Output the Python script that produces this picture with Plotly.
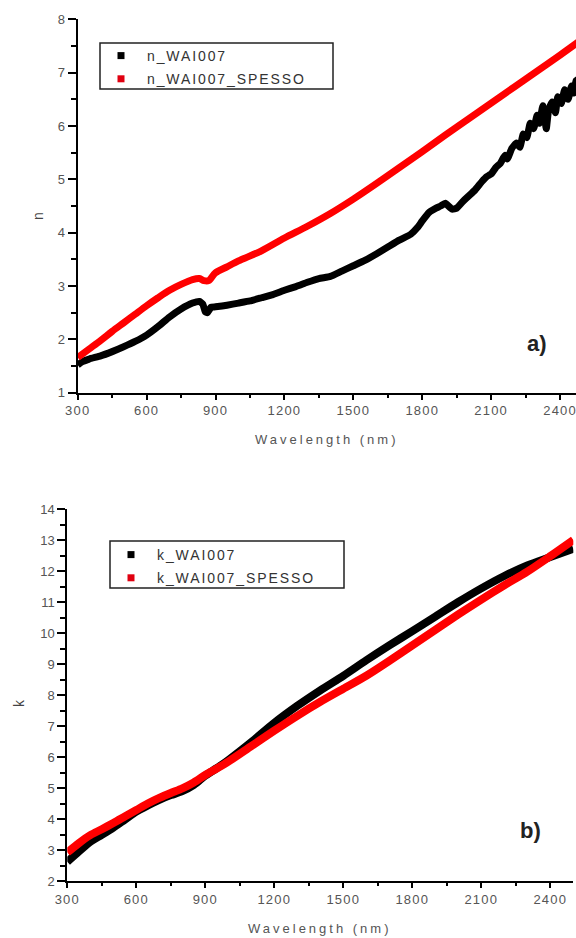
import plotly.graph_objects as go

W, H = 576, 938

# ---------------- data ----------------
wl_n_black = [300, 320, 350, 400, 450, 500, 550, 600, 650, 700, 750, 800, 830, 845, 855, 865, 880, 900,
              950, 1000, 1050, 1100, 1150, 1200, 1250, 1300, 1350, 1400, 1450, 1500, 1550, 1600, 1650,
              1700, 1750, 1780, 1800, 1830, 1860, 1880, 1900, 1930, 1950, 1980, 2000, 2030, 2060, 2080,
              2100, 2120, 2140, 2160, 2170, 2190, 2210, 2225, 2240, 2255, 2270, 2285, 2300, 2310, 2325,
              2340, 2350, 2365, 2380, 2390, 2405, 2420, 2435, 2450, 2460, 2470, 2490]
n_black = [1.52, 1.58, 1.63, 1.69, 1.77, 1.86, 1.96, 2.08, 2.24, 2.42, 2.57, 2.68, 2.71, 2.66, 2.52, 2.50, 2.60, 2.61,
           2.64, 2.68, 2.72, 2.78, 2.84, 2.92, 2.99, 3.07, 3.14, 3.18, 3.28, 3.38, 3.48, 3.60, 3.73,
           3.86, 3.97, 4.10, 4.22, 4.38, 4.46, 4.50, 4.55, 4.44, 4.46, 4.60, 4.68, 4.80, 4.96, 5.05,
           5.10, 5.22, 5.30, 5.45, 5.38, 5.58, 5.68, 5.60, 5.85, 5.78, 6.05, 5.95, 6.20, 6.05, 6.38,
           5.95, 6.30, 6.45, 6.25, 6.55, 6.42, 6.68, 6.50, 6.75, 6.62, 6.85, 6.90]

wl_n_red = [300, 350, 400, 450, 500, 550, 600, 650, 700, 750, 800, 830, 850, 870, 900, 950, 1000, 1100,
            1200, 1300, 1400, 1500, 1600, 1700, 1800, 1900, 2000, 2100, 2200, 2300, 2400, 2500]
n_red = [1.66, 1.82, 1.98, 2.15, 2.31, 2.47, 2.63, 2.78, 2.92, 3.03, 3.12, 3.14, 3.10, 3.10, 3.25, 3.36, 3.47, 3.66,
         3.90, 4.12, 4.36, 4.63, 4.92, 5.22, 5.52, 5.83, 6.13, 6.43, 6.73, 7.03, 7.33, 7.64]

wl_k = [300, 350, 400, 450, 500, 550, 600, 650, 700, 750, 800, 850, 900, 950, 1000, 1100, 1200, 1300,
        1400, 1500, 1600, 1700, 1800, 1900, 2000, 2100, 2200, 2300, 2400, 2500]
k_black = [2.62, 2.95, 3.27, 3.49, 3.72, 3.98, 4.24, 4.44, 4.62, 4.77, 4.90, 5.10, 5.40, 5.64, 5.90, 6.48, 7.10, 7.65,
           8.15, 8.62, 9.12, 9.60, 10.06, 10.53, 11.00, 11.44, 11.84, 12.18, 12.45, 12.72]
k_red = [2.92, 3.22, 3.48, 3.67, 3.87, 4.08, 4.29, 4.50, 4.68, 4.84, 4.99, 5.18, 5.42, 5.63, 5.85, 6.35, 6.85, 7.33,
         7.78, 8.20, 8.62, 9.10, 9.60, 10.10, 10.60, 11.08, 11.54, 11.98, 12.48, 13.00]

x_tick_vals = [300, 600, 900, 1200, 1500, 1800, 2100, 2400]
n_tick_vals = [1, 2, 3, 4, 5, 6, 7, 8]
k_tick_vals = [2, 3, 4, 5, 6, 7, 8, 9, 10, 11, 12, 13, 14]

names_top = ["n_WAI007", "n_WAI007_SPESSO"]
names_bot = ["k_WAI007", "k_WAI007_SPESSO"]

# ---------------- helpers ----------------
def fx(px):
    return px / W

def fy(py):
    return 1 - py / H

def spaced(t, sp=1.0):
    return '<span style="letter-spacing:%.1fpx">%s</span>' % (sp, t)

TICKFONT = dict(family="Liberation Sans", size=13, color="#555555")
RED = "#ff0000"

fig = go.Figure()

# top panel curves
fig.add_trace(go.Scatter(x=wl_n_black, y=n_black, mode="lines",
                         line=dict(color="black", width=7, shape="spline", smoothing=0.4),
                         xaxis="x", yaxis="y", showlegend=False, hoverinfo="skip"))
fig.add_trace(go.Scatter(x=wl_n_red, y=n_red, mode="lines",
                         line=dict(color=RED, width=7, shape="spline", smoothing=0.8),
                         xaxis="x", yaxis="y", showlegend=False, hoverinfo="skip"))
# bottom panel curves
fig.add_trace(go.Scatter(x=wl_k, y=k_black, mode="lines",
                         line=dict(color="black", width=8, shape="spline", smoothing=0.8),
                         xaxis="x2", yaxis="y2", showlegend=False, hoverinfo="skip"))
fig.add_trace(go.Scatter(x=wl_k, y=k_red, mode="lines",
                         line=dict(color=RED, width=8, shape="spline", smoothing=0.8),
                         xaxis="x2", yaxis="y2", showlegend=False, hoverinfo="skip"))

# legend entries
for i, (nm, col) in enumerate(zip(names_top, ["black", "#e00010"])):
    fig.add_trace(go.Scatter(x=[None], y=[None], mode="markers", name=spaced(nm, 1.9),
                             marker=dict(symbol="square", size=7, color=col),
                             xaxis="x", yaxis="y", legend="legend", legendgroup="t%d" % i))
for i, (nm, col) in enumerate(zip(names_bot, ["black", "#e00010"])):
    fig.add_trace(go.Scatter(x=[None], y=[None], mode="markers", name=spaced(nm, 1.9),
                             marker=dict(symbol="square", size=7, color=col),
                             xaxis="x2", yaxis="y2", legend="legend2", legendgroup="b%d" % i))


def xaxis_cfg(domain, rng, anchor):
    return dict(domain=domain, range=rng, anchor=anchor, showline=True, linecolor="black", linewidth=2,
                showgrid=False, zeroline=False, ticks="outside", ticklen=5, tickwidth=1.5, tickcolor="black",
                tickmode="array", tickvals=x_tick_vals, ticktext=[spaced(str(v), 1.2) for v in x_tick_vals],
                tickfont=TICKFONT, automargin=False, ticklabeloverflow="allow",
                minor=dict(ticks="outside", tick0=300, dtick=150, ticklen=3, tickwidth=1.5, tickcolor="black"))


def yaxis_cfg(domain, rng, anchor, vals):
    return dict(domain=domain, range=rng, anchor=anchor, showline=True, linecolor="black", linewidth=2,
                showgrid=False, zeroline=False, ticks="outside", ticklen=8, tickwidth=1.5, tickcolor="black",
                tickmode="array", tickvals=vals, ticktext=[str(v) for v in vals], tickfont=TICKFONT,
                automargin=False, ticklabeloverflow="allow",
                minor=dict(ticks="outside", tick0=vals[0], dtick=0.5, ticklen=5, tickwidth=1.5, tickcolor="black"))


top_x_end = 300 + (576 - 77.7) / 0.2297


def ann(text, x, y, size, color, angle=0):
    return dict(text=text, x=fx(x), y=fy(y), xref="paper", yref="paper", showarrow=False,
                xanchor="center", yanchor="middle", textangle=angle,
                font=dict(family="Liberation Sans", size=size, color=color))


fig.update_layout(
    width=W, height=H, margin=dict(l=0, r=0, t=0, b=0, autoexpand=False),
    paper_bgcolor="white", plot_bgcolor="white",
    xaxis=xaxis_cfg([fx(77.7), 1.0], [300, top_x_end], "y"),
    yaxis=yaxis_cfg([fy(392.7), fy(19.3)], [1, 8], "x", n_tick_vals),
    xaxis2=xaxis_cfg([fx(67.3), fx(573.3)], [300, 2500], "y2"),
    yaxis2=yaxis_cfg([fy(881), fy(509)], [2, 14], "x2", k_tick_vals),
    legend=dict(x=fx(95), y=fy(40), xanchor="left", yanchor="top", bgcolor="rgba(0,0,0,0)",
                borderwidth=0, font=dict(family="Liberation Sans", size=14, color="#333333"),
                tracegroupgap=2, itemwidth=42),
    legend2=dict(x=fx(105), y=fy(539), xanchor="left", yanchor="top", bgcolor="rgba(0,0,0,0)",
                 borderwidth=0, font=dict(family="Liberation Sans", size=14, color="#333333"),
                 tracegroupgap=2, itemwidth=42),
    shapes=[
        dict(type="rect", xref="paper", yref="paper", x0=fx(100), x1=fx(333), y0=fy(89), y1=fy(43),
             line=dict(color="#222222", width=1.5)),
        dict(type="rect", xref="paper", yref="paper", x0=fx(110), x1=fx(344), y0=fy(588), y1=fy(541),
             line=dict(color="#222222", width=1.5)),
    ],
    annotations=[
        ann("<b>a)</b>", 536.5, 343, 22, "#222222"),
        ann("<b>b)</b>", 530, 830, 22, "#222222"),
        ann(spaced("Wavelength (nm)", 3.0), 327, 439, 13, "#555555"),
        ann(spaced("Wavelength (nm)", 3.0), 320, 928, 13, "#555555"),
        ann("n", 38, 216, 14, "#444444", -90),
        ann("k", 19, 703, 14, "#444444", -90),
    ],
)

fig.write_html("out.html")
